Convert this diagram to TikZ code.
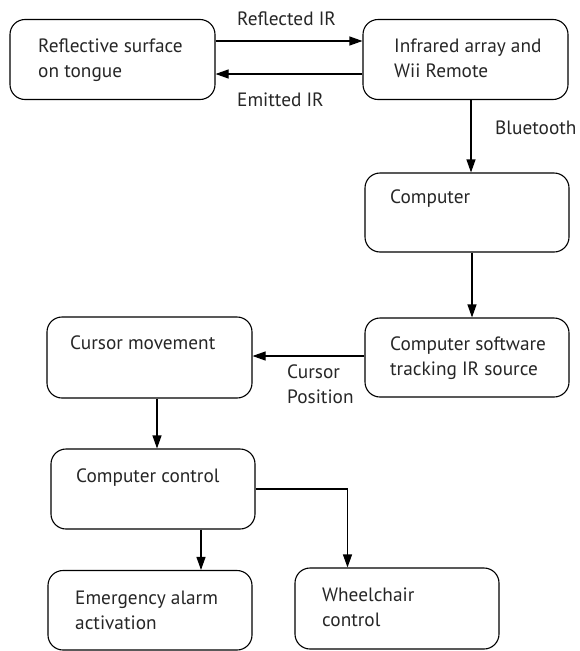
\documentclass[tikz,border=0pt]{standalone}
\usepackage{fontspec}
\setmainfont{PT Sans}
\usetikzlibrary{arrows.meta}
\begin{document}
\begin{tikzpicture}[x=1pt,y=-1pt,
  box/.style={draw, rectangle, rounded corners=15pt, line width=1.1pt, inner sep=0pt, minimum width=204pt, minimum height=80pt},
  txt/.style={anchor=base west, inner sep=0pt, align=left, font=\fontsize{19.3}{25}\selectfont, text=black!85},
  arr/.style={line width=1.1pt, -{Triangle[length=13pt,width=9pt]}}]
\useasboundingbox (0,0) rectangle (579,651);
% boxes
\node[box, minimum width=205pt] (b1) at (112.5,59.5) {};
\node[box, minimum width=205pt] (b2) at (465.5,59.5) {};
\node[box, minimum height=79pt] (b3) at (467,212.5) {};
\node[box, minimum height=79pt] (b4) at (467,357.5) {};
\node[box, minimum width=205pt, minimum height=81pt] (b5) at (149.5,357.5) {};
\node[box] (b6) at (153,489) {};
\node[box, minimum height=79.5pt] (b7) at (150,610.25) {};
\node[box, minimum height=81pt] (b8) at (397,608.5) {};
% texts (multi-line nodes: base = last line)
\node[txt] (t1) at (38,77) {Reflective surface\\on tongue};
\node[txt] (t2) at (394,77) {Infrared array and\\Wii Remote};
\node[txt] (t3) at (390,203) {Computer};
\node[txt] (t4) at (390,375) {Computer software\\tracking IR source};
\node[txt] (t5) at (70,349.5) {Cursor movement};
\node[txt] (t6) at (76,482) {Computer control};
\node[txt] (t7) at (75,629) {Emergency alarm\\activation};
\node[txt] (t8) at (322,626) {Wheelchair\\control};
% labels
\node[txt] (l1) at (237,25) {Reflected IR};
\node[txt] (l2) at (237,106.5) {Emitted IR};
\node[txt] (l3) at (495,134) {Bluetooth};
\node[txt] (l4) at (287,403) {Cursor\\Position};
% connectors
\draw[arr] ([yshift=18.5pt]b1.east) -- ([yshift=18.5pt]b2.west);
\draw[arr] ([yshift=-14.5pt]b2.west) -- ([yshift=-14.5pt]b1.east);
\draw[arr] ([xshift=5.5pt]b2.south) -- ([xshift=4pt]b3.north);
\draw[arr] ([xshift=5pt]b3.south) -- ([xshift=5pt]b4.north);
\draw[arr] ([yshift=1.5pt]b4.west) -- ([yshift=1.5pt]b5.east);
\draw[arr] ([xshift=7.5pt]b5.south) -- ([xshift=4pt]b6.north);
\draw[arr] ([xshift=48pt]b6.south) -- ([xshift=51pt]b7.north);
\draw[arr] (b6.east) -| ([xshift=-49.5pt]b8.north);
\end{tikzpicture}
\end{document}
